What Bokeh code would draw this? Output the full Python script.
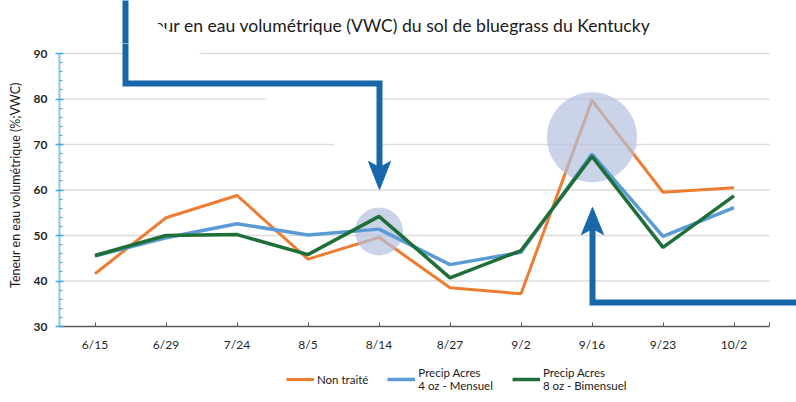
from bokeh.plotting import figure
from bokeh.layouts import column
from bokeh.models import Range1d, FixedTicker, Legend, LegendItem
from bokeh.core.properties import value
from bokeh.embed import file_html
from bokeh.resources import INLINE

# ---- data -------------------------------------------------------------
categories = ["6/15", "6/29", "7/24", "8/5", "8/14", "8/27", "9/2", "9/16", "9/23", "10/2"]
non_traite = [41.6, 53.9, 58.8, 44.8, 49.6, 38.5, 37.2, 79.7, 59.5, 60.5]
precip_4oz_mensuel = [45.5, 49.5, 52.6, 50.1, 51.4, 43.6, 46.3, 67.9, 49.8, 56.1]
precip_8oz_bimensuel = [45.6, 50.0, 50.2, 45.8, 54.2, 40.7, 46.7, 67.4, 47.4, 58.7]
y_ticks = [30, 40, 50, 60, 70, 80, 90]
highlight_categories = ["8/14", "9/16"]
highlight_values = [50.9, 71.6]

title_text = "Teneur en eau volumétrique (VWC) du sol de bluegrass du Kentucky"
y_label = "Teneur en eau volumétrique (%;VWC)"
series_labels = ["Non traité", "Precip Acres\n4 oz - Mensuel", "Precip Acres\n8 oz - Bimensuel"]

# ---- styling ------------------------------------------------------------
FONT = "Lato"
ORANGE = "#ED7D31"
BLUE = "#5B9BD5"
GREEN = "#1E6E38"
ARROW = "#1767A9"
series_colors = [ORANGE, BLUE, GREEN]
series_widths = [3, 3.5, 3.5]
series_values = [non_traite, precip_4oz_mensuel, precip_8oz_bimensuel]

W = 796
LEFT = 59
TOP_H = 43          # height of the title strip
n = len(categories)
xs = [i + 0.5 for i in range(n)]
cat_x = dict(zip(categories, xs))
x_range = Range1d(0, (W - LEFT) / 71.0)


# page-pixel helpers for the decorative callouts (arrows, masks, title)
def dx(px):
    return (px - LEFT) / 71.0


def dy(py):
    return 90 - (py - 53) / 4.55


def base_fig(height, y_range, **kw):
    f = figure(width=W, height=height, output_backend="svg", toolbar_location=None,
               x_range=x_range, y_range=y_range, min_border_left=LEFT,
               min_border_right=0, min_border_top=0, **kw)
    f.outline_line_color = None
    f.background_fill_color = "white"
    f.border_fill_color = "white"
    f.xgrid.visible = False
    f.ygrid.visible = False
    return f


def masks(f):
    f.patch([dx(v) for v in (100, 118, 242, 125, 125, 100)],
            [dy(v) for v in (-5, -5, 83, 83, 45, 45)],
            fill_color="white", line_color=None)
    f.patch([dx(v) for v in (242, 382, 382)],
            [dy(v) for v in (83, 83, 176)],
            fill_color="white", line_color=None)


def arrow1(f):
    f.line([dx(v) for v in (125, 125, 379, 379)], [dy(v) for v in (-5, 83, 83, 170)],
           line_color=ARROW, line_width=6, line_join="miter")


# ---- top strip: title and top of the callout -----------------------------
top = base_fig(TOP_H, Range1d(dy(TOP_H), dy(0)), min_border_bottom=0,
               x_axis_location=None, y_axis_location=None)
top.text(x=[dx(650)], y=[dy(25)], text=[title_text], text_align="right",
         text_baseline="middle", text_font=value(FONT), text_font_size="17.6px",
         text_color="#1a1a1a")
masks(top)
arrow1(top)

# ---- main chart ----------------------------------------------------------
p = base_fig(326 - TOP_H + 30, Range1d(30, dy(TOP_H)), min_border_bottom=30)

for t in y_ticks[1:]:
    g = p.segment(x0=0, x1=n, y0=t, y1=t, line_color="#dcdcdc", line_width=1.5)
    g.level = "underlay"

masks(p)

p.line(xs, non_traite, line_color=ORANGE, line_width=series_widths[0])
p.scatter([cat_x[c] for c in highlight_categories], highlight_values,
          size=[48, 90], fill_color="#B3C1DD", fill_alpha=0.7, line_color=None)
p.line(xs, precip_4oz_mensuel, line_color=BLUE, line_width=series_widths[1])
p.line(xs, precip_8oz_bimensuel, line_color=GREEN, line_width=series_widths[2])

arrow1(p)
p.patch([dx(v) for v in (368, 379, 390, 379)], [dy(v) for v in (161, 167, 161, 189)],
        fill_color=ARROW, line_color=ARROW, line_width=1)
p.line([dx(v) for v in (592, 592, 810)], [dy(v) for v in (228, 302, 302)],
       line_color=ARROW, line_width=6, line_join="miter")
p.patch([dx(v) for v in (581, 592, 603, 592)], [dy(v) for v in (234, 228, 234, 207)],
        fill_color=ARROW, line_color=ARROW, line_width=1)

# x axis
p.xaxis.ticker = FixedTicker(ticks=xs + [n])
overrides = {x: c for x, c in zip(xs, categories)}
overrides[n] = ""
p.xaxis.major_label_overrides = overrides
p.xaxis.bounds = (0, n)
p.xaxis.axis_line_color = "#595959"
p.xaxis.axis_line_width = 1.5
p.xaxis.major_tick_line_color = "#595959"
p.xaxis.major_tick_in = 4
p.xaxis.major_tick_out = 0
p.xaxis.minor_tick_line_color = None
p.xaxis.major_label_standoff = 10
p.xaxis.major_label_text_font = FONT
p.xaxis.major_label_text_font_size = "12px"
p.xaxis.major_label_text_color = "#262626"

# y axis
minor = [t + k * 2 for t in y_ticks[:-1] for k in (1, 2, 3, 4)]
p.yaxis.ticker = FixedTicker(ticks=y_ticks, minor_ticks=minor)
p.yaxis.bounds = (y_ticks[0], y_ticks[-1])
p.yaxis.axis_line_color = "#86CBE9"
p.yaxis.axis_line_width = 2
p.yaxis.major_tick_line_color = "#3FA9DE"
p.yaxis.major_tick_line_width = 1.5
p.yaxis.major_tick_in = 4
p.yaxis.major_tick_out = 4
p.yaxis.minor_tick_line_color = "#3FA9DE"
p.yaxis.minor_tick_in = 3
p.yaxis.minor_tick_out = 0
p.yaxis.major_label_standoff = 8
p.yaxis.major_label_text_font = FONT
p.yaxis.major_label_text_font_size = "12px"
p.yaxis.major_label_text_font_style = "bold"
p.yaxis.major_label_text_color = "#262626"
p.yaxis.axis_label = y_label
p.yaxis.axis_label_text_font = FONT
p.yaxis.axis_label_text_font_size = "12.5px"
p.yaxis.axis_label_text_font_style = "normal"
p.yaxis.axis_label_text_color = "#1a1a1a"
p.yaxis.axis_label_standoff = 8

# ---- legend strip below the chart ----------------------------------------
leg = figure(width=W, height=46, output_backend="svg", toolbar_location=None,
             x_range=Range1d(0, 1), y_range=Range1d(0, 1),
             x_axis_location=None, y_axis_location=None,
             min_border_left=0, min_border_right=0, min_border_top=0,
             min_border_bottom=0)
leg.grid.visible = False
leg.outline_line_color = None
leg.background_fill_color = "white"
leg.border_fill_color = "white"
keys = [leg.line(xs, vals, line_color=c, line_width=w)
        for vals, c, w in zip(series_values, series_colors, series_widths)]
legend = Legend(items=[LegendItem(label=lab, renderers=[r])
                       for lab, r in zip(series_labels, keys)],
                orientation="horizontal", location=(227, 10),
                border_line_color=None, background_fill_alpha=0,
                padding=0, margin=0, spacing=19, glyph_width=28, glyph_height=14,
                label_standoff=3, label_text_font=FONT, label_text_font_size="11.5px",
                label_text_color="#1a1a1a")
leg.add_layout(legend)

layout = column(top, p, leg, spacing=0)
open("out.html", "w").write(file_html(layout, INLINE))
